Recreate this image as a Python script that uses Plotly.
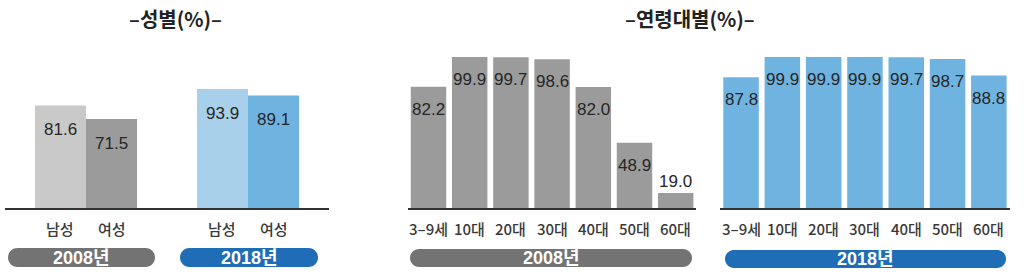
import plotly.graph_objects as go

# ---------------- data ----------------
gender_years = ["2008년", "2018년"]
gender_labels = ["남성", "여성"]
male_values = [81.6, 93.9]
female_values = [71.5, 89.1]

age_groups = ["3–9세", "10대", "20대", "30대", "40대", "50대", "60대"]
age_2008 = [82.2, 99.9, 99.7, 98.6, 82.0, 48.9, 19.0]
age_2018 = [87.8, 99.9, 99.9, 99.9, 99.7, 98.7, 88.8]

title_gender = "–성별(%)–"
title_age = "–연령대별(%)–"

# ---------------- styling ----------------
W, H = 1024, 280
FONT = "Liberation Sans, Arial, Noto Sans CJK KR, sans-serif"
GRAY_LIGHT = "#c9c9c9"
GRAY_DARK = "#9b9b9b"
BLUE_LIGHT = "#a8d0ea"
BLUE_MID = "#6fb3e0"
PILL_GRAY = "#737373"
PILL_BLUE = "#1f6db6"
TEXT = "#262626"


def px_x(p):
    return p / W


def px_y(p):
    return 1 - p / H


base_px = 208
top_px = 40
ydom = [px_y(base_px), px_y(top_px)]

fig = go.Figure()

# left: gender panel (grouped bars)
left_gap = 0.37
fig.add_trace(go.Bar(x=gender_years, y=male_values, name="남성",
                     marker=dict(color=[GRAY_LIGHT, BLUE_LIGHT], line=dict(width=0)),
                     xaxis="x", yaxis="y", hoverinfo="skip"))
fig.add_trace(go.Bar(x=gender_years, y=female_values, name="여성",
                     marker=dict(color=[GRAY_DARK, BLUE_MID], line=dict(width=0)),
                     xaxis="x", yaxis="y", hoverinfo="skip"))

# middle: 2008 age
fig.add_trace(go.Bar(x=age_groups, y=age_2008, marker=dict(color=GRAY_DARK, line=dict(width=0)),
                     xaxis="x2", yaxis="y2", hoverinfo="skip", width=0.86))
# right: 2018 age
fig.add_trace(go.Bar(x=age_groups, y=age_2018, marker=dict(color=BLUE_MID, line=dict(width=0)),
                     xaxis="x3", yaxis="y3", hoverinfo="skip", width=0.86))

annotations = []
shapes = []

LABEL_FONT = dict(family="Noto Sans CJK KR", size=15, color="#3a3a3a", weight=500)
VALUE_FONT = dict(family=FONT, size=17, color=TEXT)

# value labels for gender
off = (1 - left_gap) / 4
for i, yr in enumerate(gender_years):
    for j, vals in enumerate([male_values, female_values]):
        xpos = i + (-off if j == 0 else off)
        annotations.append(dict(x=xpos, y=vals[i], xref="x", yref="y", text=f"{vals[i]:.1f}",
                                showarrow=False, yanchor="top", yshift=-13, font=VALUE_FONT))
        annotations.append(dict(x=xpos, y=px_y(228), xref="x", yref="paper", text=gender_labels[j],
                                showarrow=False, yanchor="middle", font=LABEL_FONT))

# value labels for age panels
for xr, yr, vals in [("x2", "y2", age_2008), ("x3", "y3", age_2018)]:
    for i, v in enumerate(vals):
        inside = v >= 30
        annotations.append(dict(x=i, y=v, xref=xr, yref=yr, text=f"{v:.1f}", showarrow=False,
                                yanchor="top" if inside else "bottom",
                                yshift=-11 if inside else 0, font=VALUE_FONT))
        annotations.append(dict(x=i, y=px_y(228), xref=xr, yref="paper", text=age_groups[i],
                                showarrow=False, yanchor="middle", font=LABEL_FONT))


def pill(x0, x1, y0, y1, color, label):
    r = (y1 - y0) / 2
    k = 0.5523 * r
    pts = [
        f"M{px_x(x0 + r)},{px_y(y0)}",
        f"L{px_x(x1 - r)},{px_y(y0)}",
        f"C{px_x(x1 - r + k)},{px_y(y0)} {px_x(x1)},{px_y(y0 + r - k)} {px_x(x1)},{px_y(y0 + r)}",
        f"C{px_x(x1)},{px_y(y0 + r + k)} {px_x(x1 - r + k)},{px_y(y1)} {px_x(x1 - r)},{px_y(y1)}",
        f"L{px_x(x0 + r)},{px_y(y1)}",
        f"C{px_x(x0 + r - k)},{px_y(y1)} {px_x(x0)},{px_y(y1 - r + k)} {px_x(x0)},{px_y(y1 - r)}",
        f"C{px_x(x0)},{px_y(y0 + r - k)} {px_x(x0 + r - k)},{px_y(y0)} {px_x(x0 + r)},{px_y(y0)}",
        "Z",
    ]
    shapes.append(dict(type="path", path=" ".join(pts), xref="paper", yref="paper",
                       fillcolor=color, line=dict(width=0), layer="below"))
    annotations.append(dict(x=px_x((x0 + x1) / 2), y=px_y((y0 + y1) / 2), xref="paper", yref="paper",
                            text=f"<b>{label}</b>", showarrow=False, xanchor="center", yanchor="middle",
                            font=dict(family=FONT, size=18, color="white")))


pill(8, 155, 248, 267, PILL_GRAY, gender_years[0])
pill(180, 318, 248, 267, PILL_BLUE, gender_years[1])
pill(410, 692, 249, 267, PILL_GRAY, gender_years[0])
pill(725, 1006, 250, 268, PILL_BLUE, gender_years[1])

# titles
annotations.append(dict(x=px_x(175), y=px_y(19), xref="paper", yref="paper", text=f"<b>{title_gender}</b>",
                        showarrow=False, xanchor="center", yanchor="middle",
                        font=dict(family="Noto Sans CJK KR", size=20, color="#222222")))
annotations.append(dict(x=px_x(690), y=px_y(18), xref="paper", yref="paper", text=f"<b>{title_age}</b>",
                        showarrow=False, xanchor="center", yanchor="middle",
                        font=dict(family="Noto Sans CJK KR", size=20, color="#222222")))

xcommon = dict(showticklabels=False, ticks="", showgrid=False, zeroline=False,
               showline=True, linecolor="#333333", linewidth=2, fixedrange=True)
ycommon = dict(showticklabels=False, ticks="", showgrid=False, zeroline=False,
               showline=False, domain=ydom, fixedrange=True)

fig.update_layout(
    width=W, height=H, autosize=False,
    margin=dict(l=0, r=0, t=0, b=0),
    paper_bgcolor="white", plot_bgcolor="white",
    showlegend=False, barmode="group", bargap=left_gap, bargroupgap=0,
    xaxis=dict(domain=[px_x(5), px_x(329)], range=[-0.5, 1.5], **xcommon),
    yaxis=dict(range=[5, 5 + (base_px - top_px) / 1.339], anchor="x", **ycommon),
    xaxis2=dict(domain=[px_x(407.9), px_x(696.3)], range=[-0.5, 6.5], anchor="y2", **xcommon),
    yaxis2=dict(range=[10, 110], anchor="x2", **ycommon),
    xaxis3=dict(domain=[px_x(720.4), px_x(1009.5)], range=[-0.5, 6.5], anchor="y3", **xcommon),
    yaxis3=dict(range=[10, 110], anchor="x3", **ycommon),
    annotations=annotations, shapes=shapes,
)

fig.write_html("out.html")
